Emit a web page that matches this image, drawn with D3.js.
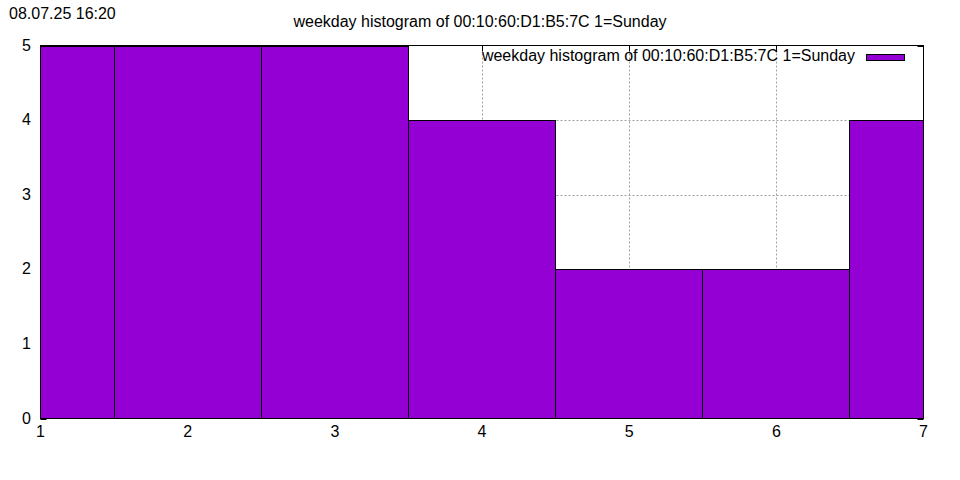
<!DOCTYPE html>
<html><head><meta charset="utf-8">
<script src="https://cdn.jsdelivr.net/npm/d3@7/dist/d3.min.js"></script>
<style>body{margin:0;background:#fff}svg{display:block}text{font-family:"Liberation Sans",Arial,sans-serif;fill:#000}</style>
</head><body>
<svg id="c" width="960" height="480"></svg>
<script>
const days = [1, 2, 3, 4, 5, 6, 7];
const counts = [5, 5, 5, 4, 2, 2, 4];
const xTicks = [1, 2, 3, 4, 5, 6, 7];
const yTicks = [0, 1, 2, 3, 4, 5];
const titleText = "weekday histogram of 00:10:60:D1:B5:7C 1=Sunday";
const legendText = "weekday histogram of 00:10:60:D1:B5:7C 1=Sunday";
const stampText = "08.07.25 16:20";

const svg = d3.select("#c");
const L = 40.5, R = 923.5, T = 45.5, B = 418.5;
const x = d3.scaleLinear().domain([1, 7]).range([L, R]);
const y = d3.scaleLinear().domain([0, 5]).range([B, T]);
const px = v => Math.floor(x(v)) + 0.5;
const py = v => Math.round(y(v)) + 0.5;
const fsTick = 16, fsTitle = 16;

// grid
const grid = svg.append("g").attr("stroke", "#a0a0a0").attr("stroke-width", 1).attr("stroke-dasharray", "2,2");
xTicks.slice(1, -1).forEach(t => grid.append("line").attr("x1", px(t)).attr("x2", px(t)).attr("y1", T).attr("y2", B));
yTicks.slice(1, -1).forEach(t => grid.append("line").attr("y1", py(t)).attr("y2", py(t)).attr("x1", L).attr("x2", R));

// ticks (inward, mirrored)
const tk = svg.append("g").attr("stroke", "#000").attr("stroke-width", 1);
xTicks.forEach(t => {
  tk.append("line").attr("x1", px(t)).attr("x2", px(t)).attr("y1", B).attr("y2", B - 6);
  tk.append("line").attr("x1", px(t)).attr("x2", px(t)).attr("y1", T).attr("y2", T + 6);
});
yTicks.forEach(t => {
  tk.append("line").attr("x1", L).attr("x2", L + 6).attr("y1", py(t)).attr("y2", py(t));
  tk.append("line").attr("x1", R).attr("x2", R - 6).attr("y1", py(t)).attr("y2", py(t));
});

// bars
const bars = svg.append("g");
days.forEach((d, i) => {
  const x0 = Math.max(1, d - 0.5), x1 = Math.min(7, d + 0.5);
  const a = px(x0), b = x1 === 7 ? R : px(x1);
  const top = py(counts[i]);
  bars.append("rect").attr("x", a).attr("y", top).attr("width", b - a).attr("height", B - top)
    .attr("fill", "#9400d3").attr("stroke", "#000").attr("stroke-width", 1);
});

// border
svg.append("rect").attr("x", L).attr("y", T).attr("width", R - L).attr("height", B - T)
  .attr("fill", "none").attr("stroke", "#000").attr("stroke-width", 1);

// axis labels
xTicks.forEach(t => svg.append("text").attr("x", x(t)).attr("y", 437).attr("text-anchor", "middle").attr("font-size", fsTick).text(t));
yTicks.forEach(t => svg.append("text").attr("x", 31).attr("y", y(t) + 5).attr("text-anchor", "end").attr("font-size", fsTick).text(t));

// title, stamp
svg.append("text").attr("x", 480).attr("y", 27).attr("text-anchor", "middle").attr("font-size", fsTitle).text(titleText);
svg.append("text").attr("x", 9).attr("y", 19).attr("font-size", fsTick).text(stampText);

// legend
svg.append("text").attr("x", 855).attr("y", 61).attr("text-anchor", "end").attr("font-size", fsTitle).text(legendText);
svg.append("rect").attr("x", 866.5).attr("y", 54.5).attr("width", 38).attr("height", 6)
  .attr("fill", "#9400d3").attr("stroke", "#000").attr("stroke-width", 1);
</script>
</body></html>
